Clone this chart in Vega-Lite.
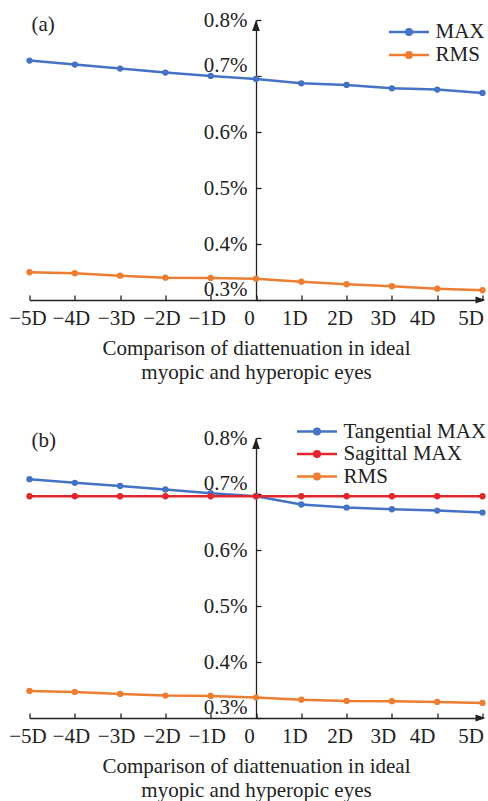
{
  "$schema": "https://vega.github.io/schema/vega-lite/v6.json",
  "padding": {"left": 8.5, "top": 9, "right": 0, "bottom": 0},
  "background": "white",
  "config": {
    "view": {"stroke": null},
    "font": "Liberation Serif",
    "axis": {"grid": false, "labelFont": "Liberation Serif", "labelFontSize": 21, "labelColor": "#222", "titleFont": "Liberation Serif", "titleFontSize": 21, "titleFontWeight": "normal", "titleColor": "#222", "domainColor": "#222", "tickColor": "#222", "domainWidth": 1.3, "tickWidth": 1.3},
    "legend": {"labelFont": "Liberation Serif", "labelFontSize": 21, "labelColor": "#222"}
  },
  "datasets": {
    "a": [
      {"D": -5, "series": "MAX", "v": 0.7276}, {"D": -4, "series": "MAX", "v": 0.7204}, {"D": -3, "series": "MAX", "v": 0.7132}, {"D": -2, "series": "MAX", "v": 0.7061}, {"D": -1, "series": "MAX", "v": 0.7002}, {"D": 0, "series": "MAX", "v": 0.6948}, {"D": 1, "series": "MAX", "v": 0.6869}, {"D": 2, "series": "MAX", "v": 0.6841}, {"D": 3, "series": "MAX", "v": 0.678}, {"D": 4, "series": "MAX", "v": 0.6757}, {"D": 5, "series": "MAX", "v": 0.6698},
      {"D": -5, "series": "RMS", "v": 0.3496}, {"D": -4, "series": "RMS", "v": 0.3478}, {"D": -3, "series": "RMS", "v": 0.3435}, {"D": -2, "series": "RMS", "v": 0.3399}, {"D": -1, "series": "RMS", "v": 0.3394}, {"D": 0, "series": "RMS", "v": 0.3381}, {"D": 1, "series": "RMS", "v": 0.3327}, {"D": 2, "series": "RMS", "v": 0.3281}, {"D": 3, "series": "RMS", "v": 0.3245}, {"D": 4, "series": "RMS", "v": 0.3202}, {"D": 5, "series": "RMS", "v": 0.3174}
    ],
    "b": [
      {"D": -5, "series": "Tangential MAX", "v": 0.7265}, {"D": -4, "series": "Tangential MAX", "v": 0.7199}, {"D": -3, "series": "Tangential MAX", "v": 0.7145}, {"D": -2, "series": "Tangential MAX", "v": 0.7081}, {"D": -1, "series": "Tangential MAX", "v": 0.7014}, {"D": 0, "series": "Tangential MAX", "v": 0.696}, {"D": 1, "series": "Tangential MAX", "v": 0.6812}, {"D": 2, "series": "Tangential MAX", "v": 0.6758}, {"D": 3, "series": "Tangential MAX", "v": 0.6728}, {"D": 4, "series": "Tangential MAX", "v": 0.6704}, {"D": 5, "series": "Tangential MAX", "v": 0.6668},
      {"D": -5, "series": "Sagittal MAX", "v": 0.696}, {"D": -4, "series": "Sagittal MAX", "v": 0.696}, {"D": -3, "series": "Sagittal MAX", "v": 0.696}, {"D": -2, "series": "Sagittal MAX", "v": 0.696}, {"D": -1, "series": "Sagittal MAX", "v": 0.696}, {"D": 0, "series": "Sagittal MAX", "v": 0.696}, {"D": 1, "series": "Sagittal MAX", "v": 0.696}, {"D": 2, "series": "Sagittal MAX", "v": 0.696}, {"D": 3, "series": "Sagittal MAX", "v": 0.696}, {"D": 4, "series": "Sagittal MAX", "v": 0.696}, {"D": 5, "series": "Sagittal MAX", "v": 0.696},
      {"D": -5, "series": "RMS", "v": 0.3484}, {"D": -4, "series": "RMS", "v": 0.3466}, {"D": -3, "series": "RMS", "v": 0.343}, {"D": -2, "series": "RMS", "v": 0.34}, {"D": -1, "series": "RMS", "v": 0.3394}, {"D": 0, "series": "RMS", "v": 0.3364}, {"D": 1, "series": "RMS", "v": 0.3328}, {"D": 2, "series": "RMS", "v": 0.3305}, {"D": 3, "series": "RMS", "v": 0.33}, {"D": 4, "series": "RMS", "v": 0.3287}, {"D": 5, "series": "RMS", "v": 0.3269}
    ],
    "arrowsA": [{"D": 0, "v": 0.8, "kind": "up"}, {"D": 5, "v": 0.3, "kind": "right"}],
    "labA": [{"D": -5, "v": 0.8, "t": "(a)"}],
    "labB": [{"D": -5, "v": 0.8, "t": "(b)"}]
  },
  "bounds": "flush",
  "spacing": 138,
  "resolve": {"scale": {"color": "independent", "x": "independent", "y": "independent"}, "legend": {"color": "independent"}},
  "vconcat": [
    {
      "width": 453,
      "height": 280,
      "encoding": {
        "x": {"field": "D", "type": "quantitative", "scale": {"domain": [-5, 5], "nice": false, "zero": false},
          "axis": {"values": [-5, -4, -3, -2, -1, 0, 1, 2, 3, 4, 5], "labelExpr": "datum.value == 0 ? '0' : (datum.value < 0 ? '\u2212' + (-datum.value) + 'D' : datum.value + 'D')", "tickSize": -5, "labelPadding": 12.5, "labelOffset": {"condition": [{"test": "datum.value == 4", "value": -15}, {"test": "datum.value == 5", "value": -12}, {"test": "datum.value == 3", "value": -9}, {"test": "datum.value >= 0", "value": -7}, {"test": "datum.value == -5", "value": -2}], "value": -4}, "labelFlush": false, "title": ["Comparison of diattenuation in ideal", "myopic and hyperopic eyes"], "titlePadding": 9, "titleLineHeight": 24}},
        "y": {"field": "v", "type": "quantitative", "scale": {"domain": [0.3, 0.8], "nice": false, "zero": false},
          "axis": {"values": [0.3, 0.4, 0.5, 0.6, 0.7, 0.8], "labelExpr": "datum.value + '%'", "offset": -226.5, "tickSize": -5, "labelPadding": 14, "title": null, "labelOffset": {"condition": {"test": "datum.value == 0.7 || datum.value == 0.3", "value": -11}, "value": 0}}}
      },
      "layer": [
        {
          "data": {"name": "a"},
          "mark": {"type": "line", "strokeWidth": 2.5, "point": {"filled": true, "size": 40}},
          "encoding": {
            "color": {"field": "series", "type": "nominal", "scale": {"domain": ["MAX", "RMS"], "range": ["#4472C4", "#ED7D31"]},
              "legend": {"title": null, "orient": "none", "legendX": 381, "legendY": 1.5, "symbolType": "M-4,0H1M-1.35,0A0.15,0.15,0,1,1,-1.65,0A0.15,0.15,0,1,1,-1.35,0M-1.15,0A0.35,0.35,0,1,1,-1.85,0A0.35,0.35,0,1,1,-1.15,0", "symbolSize": 256, "symbolStrokeWidth": 2.5, "labelOffset": 4, "rowPadding": 1}}
          }
        },
        {
          "data": {"name": "arrowsA"},
          "transform": [{"filter": "datum.kind == 'up'"}],
          "mark": {"type": "point", "shape": "M0,0L-0.35,1L0.35,1Z", "size": 484, "filled": true, "color": "#222", "opacity": 1}
        },
        {
          "data": {"name": "arrowsA"},
          "transform": [{"filter": "datum.kind == 'right'"}],
          "mark": {"type": "point", "shape": "M0,0L-1,-0.35L-1,0.35Z", "size": 400, "filled": true, "color": "#222", "opacity": 1, "xOffset": 3}
        },
        {
          "data": {"name": "labA"},
          "mark": {"type": "text", "align": "left", "baseline": "middle", "dx": 2, "dy": 5, "fontSize": 21, "font": "Liberation Serif", "color": "#222"},
          "encoding": {"text": {"field": "t"}}
        }
      ]
    },
    {
      "width": 453,
      "height": 280,
      "encoding": {
        "x": {"field": "D", "type": "quantitative", "scale": {"domain": [-5, 5], "nice": false, "zero": false},
          "axis": {"values": [-5, -4, -3, -2, -1, 0, 1, 2, 3, 4, 5], "labelExpr": "datum.value == 0 ? '0' : (datum.value < 0 ? '\u2212' + (-datum.value) + 'D' : datum.value + 'D')", "tickSize": -5, "labelPadding": 12.5, "labelOffset": {"condition": [{"test": "datum.value == 4", "value": -15}, {"test": "datum.value == 5", "value": -12}, {"test": "datum.value == 3", "value": -9}, {"test": "datum.value >= 0", "value": -7}, {"test": "datum.value == -5", "value": -2}], "value": -4}, "labelFlush": false, "title": ["Comparison of diattenuation in ideal", "myopic and hyperopic eyes"], "titlePadding": 9, "titleLineHeight": 24}},
        "y": {"field": "v", "type": "quantitative", "scale": {"domain": [0.3, 0.8], "nice": false, "zero": false},
          "axis": {"values": [0.3, 0.4, 0.5, 0.6, 0.7, 0.8], "labelExpr": "datum.value + '%'", "offset": -226.5, "tickSize": -5, "labelPadding": 14, "title": null, "labelOffset": {"condition": {"test": "datum.value == 0.7 || datum.value == 0.3", "value": -11}, "value": 0}}}
      },
      "layer": [
        {
          "data": {"name": "b"},
          "mark": {"type": "line", "strokeWidth": 2.5, "point": {"filled": true, "size": 40}},
          "encoding": {
            "color": {"field": "series", "type": "nominal", "scale": {"domain": ["Tangential MAX", "Sagittal MAX", "RMS"], "range": ["#4472C4", "#E3262E", "#ED7D31"]},
              "legend": {"title": null, "orient": "none", "legendX": 289, "legendY": -17, "symbolType": "M-4,0H1M-1.35,0A0.15,0.15,0,1,1,-1.65,0A0.15,0.15,0,1,1,-1.35,0M-1.15,0A0.35,0.35,0,1,1,-1.85,0A0.35,0.35,0,1,1,-1.15,0", "symbolSize": 256, "symbolStrokeWidth": 2.5, "labelOffset": 4, "rowPadding": 0.5}}
          }
        },
        {
          "data": {"name": "arrowsA"},
          "transform": [{"filter": "datum.kind == 'up'"}],
          "mark": {"type": "point", "shape": "M0,0L-0.35,1L0.35,1Z", "size": 484, "filled": true, "color": "#222", "opacity": 1}
        },
        {
          "data": {"name": "arrowsA"},
          "transform": [{"filter": "datum.kind == 'right'"}],
          "mark": {"type": "point", "shape": "M0,0L-1,-0.35L-1,0.35Z", "size": 400, "filled": true, "color": "#222", "opacity": 1, "xOffset": 3}
        },
        {
          "data": {"name": "labB"},
          "mark": {"type": "text", "align": "left", "baseline": "middle", "dx": 2, "dy": 3, "fontSize": 21, "font": "Liberation Serif", "color": "#222"},
          "encoding": {"text": {"field": "t"}}
        }
      ]
    }
  ]
}
